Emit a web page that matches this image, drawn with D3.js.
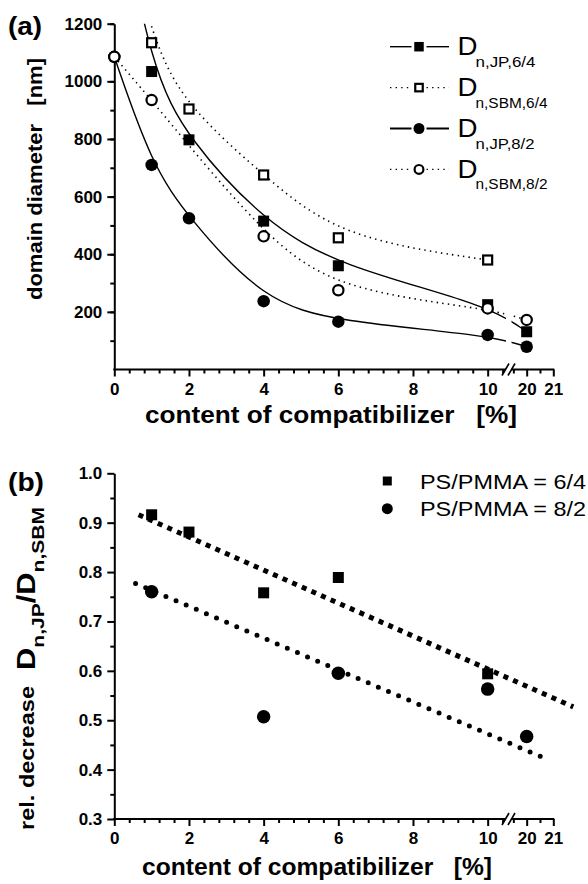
<!DOCTYPE html>
<html>
<head>
<meta charset="utf-8">
<script src="https://cdn.jsdelivr.net/npm/d3@7"></script>
<style>
body { margin: 0; background: #fff; }
svg { display: block; }
text { font-family: "Liberation Sans", Arial, sans-serif; fill: #000; white-space: pre; }
</style>
</head>
<body>
<div class="canvas"></div>
<script>
// panel (a): domain diameter [nm] vs content of compatibilizer [%]
var content = [0, 1, 2, 4, 6, 10, 20];
var dnJP64  = [1700, 1034, 797, 515, 360, 225, 131];
var dnSBM64 = [1700, 1134, 904, 675, 457, 380, null];
var dnJP82  = [1085, 710, 525, 237, 166, 120, 79];
var dnSBM82 = [1085, 935, null, 462, 275, 212, 172];

// panel (b): relative decrease D_JP / D_SBM
var ratioX64 = [1, 2, 4, 6, 10];
var ratio64  = [0.916, 0.881, 0.758, 0.789, 0.594];
var ratioX82 = [1, 4, 6, 10, 20];
var ratio82  = [0.760, 0.507, 0.595, 0.563, 0.467];
// dotted fit lines, end points
var trendX64 = [0.65, 21.75];
var trend64  = [0.916, 0.527];
var trendX82 = [0.57, 20.81];
var trend82  = [0.777, 0.420];

// ticks and legend texts
var xTickLabels = [0, 2, 4, 6, 8, 10, 20, 21];
var yTicksA = [200, 400, 600, 800, 1000, 1200];
var yTicksB = [0.3, 0.4, 0.5, 0.6, 0.7, 0.8, 0.9, 1.0];
var legendA = ['n,JP,6/4', 'n,SBM,6/4', 'n,JP,8/2', 'n,SBM,8/2'];
var legendB = ['PS/PMMA = 6/4', 'PS/PMMA = 8/2'];

var width = 588,
    height = 884,
    breakL = 505.5,
    breakR = 511.5;

var svg = d3.select('.canvas').append('svg')
    .attr('width', width)
    .attr('height', height);

// broken x axis: 0..10.55 then 19.4..21
var x = d3.scaleLinear()
    .domain([0, 10.55, 19.4, 21])
    .range([114.3, 508.2, 510.7, 553.3]);

var yA = d3.scaleLinear().domain([0, 1200]).range([369.5, 23.7]);
var yB = d3.scaleLinear().domain([0.3, 1.0]).range([819, 473.3]);

var xMinor = d3.range(0.4, 10.5, 0.4).filter(function (d) {
    return Math.abs(d / 2 - Math.round(d / 2)) > 0.01;
}).concat([19.5, 20.5]);

function styleAxis(g) {
    g.selectAll('line, path').attr('stroke', '#000').attr('stroke-width', 2);
    g.selectAll('text')
        .style('font-size', '17px')
        .style('font-weight', 'bold');
}

function xAxis(y) {
    var g = svg.append('g');
    var major = g.append('g')
        .attr('transform', 'translate(0,' + y + ')')
        .call(d3.axisBottom(x).tickValues(xTickLabels).tickSize(7).tickPadding(6).tickFormat(d3.format('d')));
    major.select('.domain').remove();
    var minor = g.append('g')
        .attr('transform', 'translate(0,' + y + ')')
        .call(d3.axisBottom(x).tickValues(xMinor).tickSize(4).tickFormat(''));
    minor.select('.domain').remove();
    styleAxis(g);
    g.append('line').attr('x1', 113.3).attr('x2', breakL).attr('y1', y).attr('y2', y)
        .attr('stroke', '#000').attr('stroke-width', 2);
    g.append('line').attr('x1', breakR).attr('x2', 554.3).attr('y1', y).attr('y2', y)
        .attr('stroke', '#000').attr('stroke-width', 2);
    [breakL, breakR].forEach(function (bx) {
        g.append('line')
            .attr('x1', bx - 3.5).attr('y1', y + 6)
            .attr('x2', bx + 3.5).attr('y2', y - 6)
            .attr('stroke', '#000').attr('stroke-width', 1.6);
    });
}

function yAxis(scale, ticks, minorTicks, fmt) {
    var g = svg.append('g').attr('transform', 'translate(114.3,0)');
    g.append('g')
        .call(d3.axisLeft(scale).tickValues(minorTicks).tickSize(4).tickFormat(''))
        .select('.domain').remove();
    g.append('g')
        .call(d3.axisLeft(scale).tickValues(ticks).tickSize(7).tickSizeOuter(0).tickPadding(5).tickFormat(fmt));
    styleAxis(g);
}

function label(x0, y0, txt, size, len, bold, rot) {
    var t = svg.append('text')
        .style('font-size', size + 'px')
        .style('font-weight', bold ? 'bold' : 'normal')
        .attr('textLength', len)
        .attr('lengthAdjust', 'spacingAndGlyphs')
        .text(txt);
    if (rot) t.attr('transform', 'translate(' + x0 + ',' + y0 + ') rotate(-90)');
    else t.attr('x', x0).attr('y', y0);
    return t;
}

// ---------- panel (a) ----------
xAxis(369.5);
yAxis(yA, yTicksA, d3.range(100, 1201, 100), d3.format('d'));

var defs = svg.append('defs');
var clipA = defs.append('clipPath').attr('id', 'clipA');
clipA.append('rect').attr('x', 100).attr('y', 23.7).attr('width', breakL + 0.5 - 100).attr('height', 350);
clipA.append('rect').attr('x', breakR).attr('y', 23.7).attr('width', 100).attr('height', 350);

var seriesA = [
    { v: dnJP64,  shape: 'square', fill: true,  dash: null },
    { v: dnSBM64, shape: 'square', fill: false, dash: '1.4,4.2' },
    { v: dnJP82,  shape: 'circle', fill: true,  dash: null },
    { v: dnSBM82, shape: 'circle', fill: false, dash: '1.4,4.2' }
];

var curveLine = d3.line()
    .x(function (d) { return x(d.x); })
    .y(function (d) { return yA(d.v); })
    .curve(d3.curveBasis);

var curves = svg.append('g').attr('clip-path', 'url(#clipA)');
seriesA.forEach(function (s) {
    var pts = content.map(function (c, i) { return { x: c, v: s.v[i] }; })
        .filter(function (d) { return d.v != null; });
    curves.append('path')
        .datum(pts)
        .attr('d', curveLine)
        .attr('fill', 'none')
        .attr('stroke', '#000')
        .attr('stroke-width', s.dash ? 1.6 : 1.4)
        .attr('stroke-dasharray', s.dash);
});

function marker(g, shape, fill, cx, cy, size) {
    if (shape === 'square') {
        var w = fill ? size : size - 2;
        g.append('rect')
            .attr('x', cx - w / 2).attr('y', cy - w / 2)
            .attr('width', w).attr('height', w)
            .attr('fill', fill ? '#000' : '#fff')
            .attr('stroke', '#000')
            .attr('stroke-width', fill ? 0 : 2.2);
    } else {
        var r = fill ? size / 2 : size / 2 - 1.1;
        g.append('circle')
            .attr('cx', cx).attr('cy', cy).attr('r', r)
            .attr('fill', fill ? '#000' : '#fff')
            .attr('stroke', '#000')
            .attr('stroke-width', fill ? 0 : 2.2);
    }
}

var marksA = svg.append('g');
seriesA.forEach(function (s) {
    content.forEach(function (c, i) {
        if (s.v[i] == null || s.v[i] > 1200) return;
        marker(marksA, s.shape, s.fill, x(c), yA(s.v[i]), s.shape === 'square' ? 11 : 12.5);
    });
});

// legend (a)
var subLen = [60, 72, 59, 72];
var legA = svg.append('g');
seriesA.forEach(function (s, i) {
    var cy = 46.7 + i * 40.9;
    [[390, 411.5], [426.5, 449]].forEach(function (seg) {
        legA.append('line')
            .attr('x1', seg[0]).attr('x2', seg[1]).attr('y1', cy).attr('y2', cy)
            .attr('stroke', '#000')
            .attr('stroke-width', s.dash ? 1.4 : (i === 2 ? 2 : 1.4))
            .attr('stroke-dasharray', s.dash);
    });
    marker(legA, s.shape, s.fill, 419, cy, s.shape === 'square' ? 9.5 : 11);
    label(457.5, cy + 8.5, 'D', 25, 20, false);
    label(475.5, cy + 20, legendA[i], 15, subLen[i], false);
});

// labels (a)
label(8, 35, '(a)', 25, 34, true);
label(42, 300, 'domain diameter   [nm]', 20, 242, true, true);
label(145, 423, 'content of compatibilizer   [%]', 24, 372, true);

// ---------- panel (b) ----------
xAxis(819);
yAxis(yB, yTicksB, d3.range(0.35, 1.0, 0.1), d3.format('.1f'));

var straight = d3.line()
    .x(function (d) { return x(d[0]); })
    .y(function (d) { return yB(d[1]); });

svg.append('path')
    .datum(d3.zip(trendX64, trend64))
    .attr('d', straight)
    .attr('fill', 'none').attr('stroke', '#000')
    .attr('stroke-width', 5)
    .attr('stroke-dasharray', '5,5.5');
svg.append('path')
    .datum(d3.zip(trendX82, trend82))
    .attr('d', straight)
    .attr('fill', 'none').attr('stroke', '#000')
    .attr('stroke-width', 5)
    .attr('stroke-linecap', 'round')
    .attr('stroke-dasharray', '0,11');

var marksB = svg.append('g');
ratioX64.forEach(function (c, i) {
    marker(marksB, 'square', true, x(c), yB(ratio64[i]), 11);
});
ratioX82.forEach(function (c, i) {
    marker(marksB, 'circle', true, x(c), yB(ratio82[i]), 13.5);
});

// legend (b)
legendB.forEach(function (name, i) {
    var cy = 481 + i * 27.7;
    marker(svg, i === 0 ? 'square' : 'circle', true, 387.3, cy, i === 0 ? 9 : 11);
    label(420, cy + 7.5, name, 21, 166, false);
});

// labels (b)
label(8, 491, '(b)', 25, 36, true);
label(34, 830, 'rel. decrease', 21, 144, true, true);
var yt = svg.append('text')
    .attr('transform', 'translate(35,670) rotate(-90)')
    .style('font-weight', 'bold')
    .style('font-size', '25px')
    .attr('textLength', 163)
    .attr('lengthAdjust', 'spacingAndGlyphs');
yt.append('tspan').text('D');
yt.append('tspan').attr('dy', 9).style('font-size', '17px').text('n,JP');
yt.append('tspan').attr('dy', -9).style('font-size', '25px').text('/D');
yt.append('tspan').attr('dy', 9).style('font-size', '17px').text('n,SBM');

label(142, 875, 'content of compatibilizer   [%]', 24, 350, true);
</script>
</body>
</html>
